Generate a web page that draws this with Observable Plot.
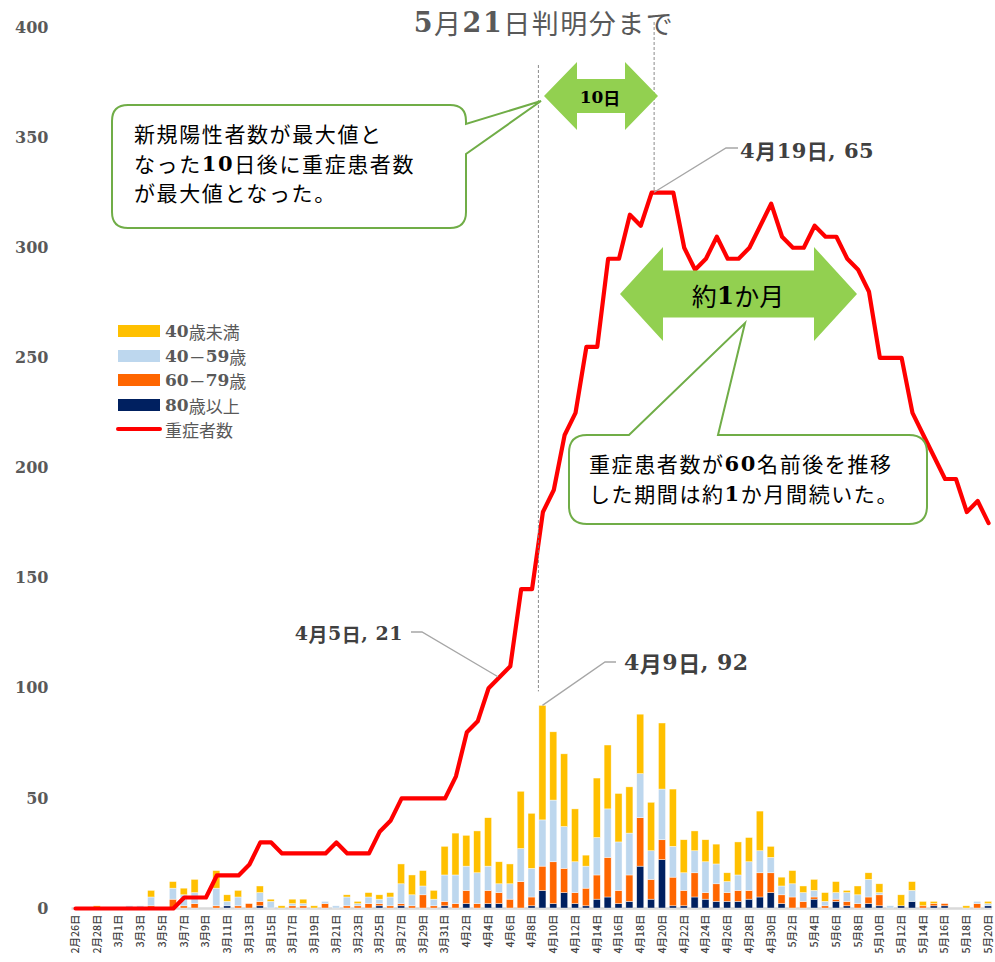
<!DOCTYPE html>
<html><head><meta charset="utf-8">
<script src="https://cdn.jsdelivr.net/npm/d3@7"></script>
<script src="https://cdn.jsdelivr.net/npm/@observablehq/plot@0.6"></script>
<style>
body{margin:0;background:#fff;}
#chart{position:relative;width:995px;height:962px;}
#chart svg{display:block;}
</style></head><body><div id="chart"></div>
<script>
const dates = ["2月26日","2月27日","2月28日","2月29日",
"3月1日","3月2日","3月3日","3月4日","3月5日","3月6日","3月7日","3月8日","3月9日","3月10日",
"3月11日","3月12日","3月13日","3月14日","3月15日","3月16日","3月17日","3月18日","3月19日","3月20日",
"3月21日","3月22日","3月23日","3月24日","3月25日","3月26日","3月27日","3月28日","3月29日","3月30日","3月31日",
"4月1日","4月2日","4月3日","4月4日","4月5日","4月6日","4月7日","4月8日","4月9日","4月10日",
"4月11日","4月12日","4月13日","4月14日","4月15日","4月16日","4月17日","4月18日","4月19日","4月20日",
"4月21日","4月22日","4月23日","4月24日","4月25日","4月26日","4月27日","4月28日","4月29日","4月30日",
"5月1日","5月2日","5月3日","5月4日","5月5日","5月6日","5月7日","5月8日","5月9日","5月10日",
"5月11日","5月12日","5月13日","5月14日","5月15日","5月16日","5月17日","5月18日","5月19日","5月20日"];

const age80plus = [0,0,0,0,0,0,0,0,0,0, 0,0,0,0,1,0,0,1,0,0, 0,0,0,0,0,0,0,0,1,0, 1,0,0,0,1,0,2,0,2,2,
  0,0,1,8,2,7,2,1,4,5, 2,3,19,4,22,1,1,5,4,3, 3,3,4,5,7,2,0,0,4,0, 3,1,0,2,1,0,1,3,0,1, 1,0,0,0,1];
const age60to79 = [0,0,0,0,0,0,0,1,0,4, 1,2,0,1,0,1,2,2,0,0, 1,1,0,2,0,1,1,2,1,1, 1,1,6,1,2,2,6,2,6,5,
  4,12,4,11,19,11,5,8,11,18, 6,12,22,9,9,13,7,11,3,8, 4,5,4,11,9,4,5,3,1,1, 1,2,2,3,5,0,0,0,1,1, 1,0,0,2,0];
const age40to59 = [0,0,0,0,0,1,1,4,0,5, 5,5,0,8,2,4,0,4,3,0, 1,1,0,1,1,4,1,3,2,4, 9,5,4,3,12,13,11,14,11,4,
  7,15,13,21,28,19,14,10,17,22, 22,19,20,13,23,14,8,10,14,9, 5,7,13,10,7,4,6,4,3,2, 3,4,4,8,1,1,0,5,0,0, 0,0,0,1,1];
const ageUnder40 = [0,0,1,0,0,0,0,3,0,3, 3,6,0,8,3,3,0,3,1,1, 2,2,1,0,0,1,1,2,2,2, 9,9,7,4,13,19,14,19,22,10,
  9,26,25,52,31,33,24,5,27,29, 22,21,27,22,30,26,15,9,10,9, 4,15,11,18,5,4,6,3,5,4, 5,1,4,3,4,0,5,4,2,1, 0,0,1,0,1];
const severe = [0,0,0,0,0,0,0,0,0,0, 1,1,1,3,3,3,4,6,6,5, 5,5,5,5,6,5,5,5,7,8, 10,10,10,10,10,12,16,17,20,21,
  22,29,29,36,38,43,45,51,51,59, 59,63,62,65,65,65,60,58,59,61, 59,59,60,62,64,61,60,60,62,61, 61,59,58,56,50,50,50,45,43,41, 39,39,36,37,35];
const severeScale = 5; // secondary axis 0–80 drawn on the 0–400 axis
const yTicks = [0,50,100,150,200,250,300,350,400];
const seriesNames = ["80歳以上","60－79歳","40－59歳","40歳未満"];
const seriesColors = ["#002060","#ff6600","#bdd7ee","#ffc000"];
const legendNames = ["40歳未満","40－59歳","60－79歳","80歳以上","重症者数"];

const seriesArrays = [age80plus, age60to79, age40to59, ageUnder40];
const rows = [];
dates.forEach((d,i)=>{
  seriesArrays.forEach((arr,k)=>{ if (arr[i] > 0) rows.push({date:d, group:seriesNames[k], value:arr[i]}); });
});
const lineRows = dates.map((d,i)=>({date:d, severe:severe[i]}));

const chart = Plot.plot({
  width: 995, height: 962,
  marginTop: 27, marginBottom: 54, marginLeft: 71.5, marginRight: 3.4,
  style: {background:"white", overflow:"visible"},
  x: {type:"band", domain: dates, paddingInner: 0.35, paddingOuter: 0, axis: null},
  y: {domain:[0,400], axis:null},
  color: {domain: seriesNames, range: seriesColors},
  marks: [
    Plot.axisY({ticks: yTicks, tickSize: 0, tickPadding: 23.5, fontSize: 16, fontWeight: "bold",
      fontFamily: "DejaVu Serif", fill: "#595959", label: null}),
    Plot.axisX({ticks: dates.filter((d,i)=>i%2===0), tickSize: 0, tickRotate: -90, tickPadding: 6,
      fontSize: 10.5, fontFamily: "Noto Sans CJK JP", fontWeight: "500", fill: "#404040", label: null}),
    Plot.ruleY([0], {stroke:"#d9d9d9", strokeWidth:2.5}),
    Plot.barY(rows, Plot.stackY({x:"date", y:"value", fill:"group", order: seriesNames,
      stroke:"white", strokeWidth:0.6, strokeOpacity:0.7})),
    Plot.line(lineRows, {x:"date", y: d => d.severe*severeScale, stroke:"#ff0000", strokeWidth:4.2,
      strokeLinejoin:"round", strokeLinecap:"round"})
  ]
});
document.getElementById("chart").appendChild(chart);

// ---------- annotations ----------
const svg = d3.select(chart);
const xs = chart.scale("x"), ys = chart.scale("y");
const xc = d => xs.apply(d) + xs.bandwidth/2;
const yv = v => ys.apply(v);
const g = svg.append("g");

const SERIF = "'DejaVu Serif'", SANS = "'Noto Sans CJK JP'";
function rich(x, y, str, o) {
  const t = g.append("text").attr("x",x).attr("y",y).attr("font-size",o.size)
    .attr("fill",o.fill||"#000").attr("dominant-baseline","central").attr("text-anchor",o.anchor||"start");
  if (o.ls) t.attr("letter-spacing", o.ls);
  str.split(/([0-9, ]+)/).filter(s=>s.length).forEach(p=>{
    const num = /^[0-9, ]+$/.test(p);
    t.append("tspan").text(p).attr("font-family", num ? SERIF : SANS)
      .attr("font-weight", (num || o.bold) ? "bold" : "normal");
  });
  return t;
}

// title
rich(544, 22, "5月21日判明分まで", {size:27, fill:"#595959", anchor:"middle", ls:1.5});

// dashed reference lines
const xPeak = xc("4月9日") - 4, xSev = xc("4月19日") + 3;
g.append("line").attr("x1",xPeak).attr("x2",xPeak).attr("y1",65).attr("y2",yv(92)-14)
  .attr("stroke","#7f7f7f").attr("stroke-width",0.9).attr("stroke-dasharray","3,2");
g.append("line").attr("x1",xSev).attr("x2",xSev).attr("y1",22).attr("y2",yv(65*severeScale))
  .attr("stroke","#7f7f7f").attr("stroke-width",0.9).attr("stroke-dasharray","3,2");

// double arrows
function dblArrow(x0, x1, cy, headW, headH, shaftH) {
  const a = x0 + headW, b = x1 - headW;
  const p = [[x0,cy],[a,cy-headH],[a,cy-shaftH],[b,cy-shaftH],[b,cy-headH],[x1,cy],
             [b,cy+headH],[b,cy+shaftH],[a,cy+shaftH],[a,cy+headH]];
  g.append("path").attr("d","M"+p.map(q=>q.join(",")).join("L")+"Z").attr("fill","#92d050");
}
dblArrow(544, 658, 96, 33, 34, 17);
rich(600, 97, "10日", {size:17, bold:true, anchor:"middle"});
dblArrow(620, 857, 294, 43, 47, 23.5);
rich(738, 295, "約1か月", {size:25, anchor:"middle"});

// callout 1
g.append("path").attr("d",
  "M128,105 H450 Q466,105 466,121 V124 L541,101 L466,154 V212 Q466,228 450,228 H128 Q112,228 112,212 V121 Q112,105 128,105 Z")
  .attr("fill","white").attr("stroke","#70ad47").attr("stroke-width",2);
rich(134, 133, "新規陽性者数が最大値と", {size:21, ls:1.6});
rich(134, 163, "なった10日後に重症患者数", {size:21, ls:1.6});
rich(134, 192, "が最大値となった。", {size:21, ls:1.6});

// callout 2
g.append("path").attr("d",
  "M587,435 H629 L745,323 L718,435 H909 Q927,435 927,453 V506 Q927,524 909,524 H587 Q569,524 569,506 V453 Q569,435 587,435 Z")
  .attr("fill","white").attr("stroke","#70ad47").attr("stroke-width",2);
rich(589, 463, "重症患者数が60名前後を推移", {size:21, ls:1.6});
rich(589, 493, "した期間は約1か月間続いた。", {size:21, ls:1.6});

// data labels with leaders
function leader(pts) {
  g.append("path").attr("d","M"+pts.map(q=>q.join(",")).join("L"))
    .attr("fill","none").attr("stroke","#a6a6a6").attr("stroke-width",1.3);
}
const x419 = xc("4月19日"), x45 = xc("4月5日"), x49 = xc("4月9日");
leader([[738,148],[726,148],[x419+3, yv(65*severeScale)]]);
rich(740, 150, "4月19日, 65", {size:21, fill:"#404040", bold:true, ls:0.5});
leader([[411,632],[422,632],[x45-1, yv(21*severeScale)]]);
rich(403, 633, "4月5日, 21", {size:19, fill:"#404040", bold:true, anchor:"end", ls:0.5});
leader([[x49, yv(92)],[605,662],[616,662]]);
rich(624, 662, "4月9日, 92", {size:22, fill:"#404040", bold:true, ls:0.5});

// legend
const legColors = ["#ffc000","#bdd7ee","#ff6600","#002060"];
const legY = [331, 356, 380, 405, 429];
legendNames.forEach((n,i)=>{
  if (i < 4) g.append("rect").attr("x",118).attr("y",legY[i]-6).attr("width",42).attr("height",12).attr("fill",legColors[i]);
  else g.append("line").attr("x1",118).attr("x2",160).attr("y1",legY[i]).attr("y2",legY[i])
        .attr("stroke","#ff0000").attr("stroke-width",4).attr("stroke-linecap","round");
  rich(165, legY[i], n, {size:17, fill:"#595959"});
});
</script></body></html>
